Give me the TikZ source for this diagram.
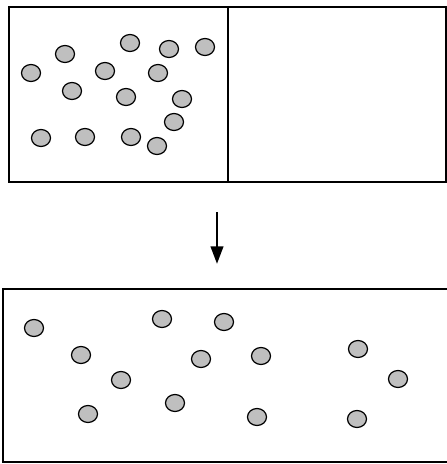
\documentclass[tikz,border=0pt]{standalone}
\usetikzlibrary{arrows.meta}

\begin{document}
\begin{tikzpicture}[x=0.02cm,y=-0.02cm,
  particle/.style={line width=0.7pt, fill=black!25},
  wall/.style={line width=1.5pt}]
\useasboundingbox (0,0) rectangle (447,464);
% container before: gas on the left, vacuum on the right
\draw[wall] (9,7) rectangle (446,182);
\draw[wall] (228,7) -- (228,182);
\foreach \px/\py in {31/73, 65/54, 130/43, 169/49, 205/47, 105/71, 158/73,
  72/91, 126/97, 182/99, 174/122, 41/138, 85/137, 131/137, 157/146}
  \draw[particle] (\px,\py) ellipse (9.5 and 8.5);
% arrow
\coordinate (from) at (217,212);
\coordinate (to) at (217,264);
\draw[line width=1.6pt, -{Triangle[length=10pt,width=7pt]}] (from) -- (to);
% container after: gas fills the whole volume
\draw[line width=1.3pt] (3,289) rectangle (452,462);
\foreach \px/\py in {34/328, 81/355, 162/319, 224/322, 201/359, 261/356,
  121/380, 175/403, 88/414, 257/417, 358/349, 398/379, 357/419}
  \draw[particle] (\px,\py) ellipse (9.5 and 8.5);
\end{tikzpicture}
\end{document}
